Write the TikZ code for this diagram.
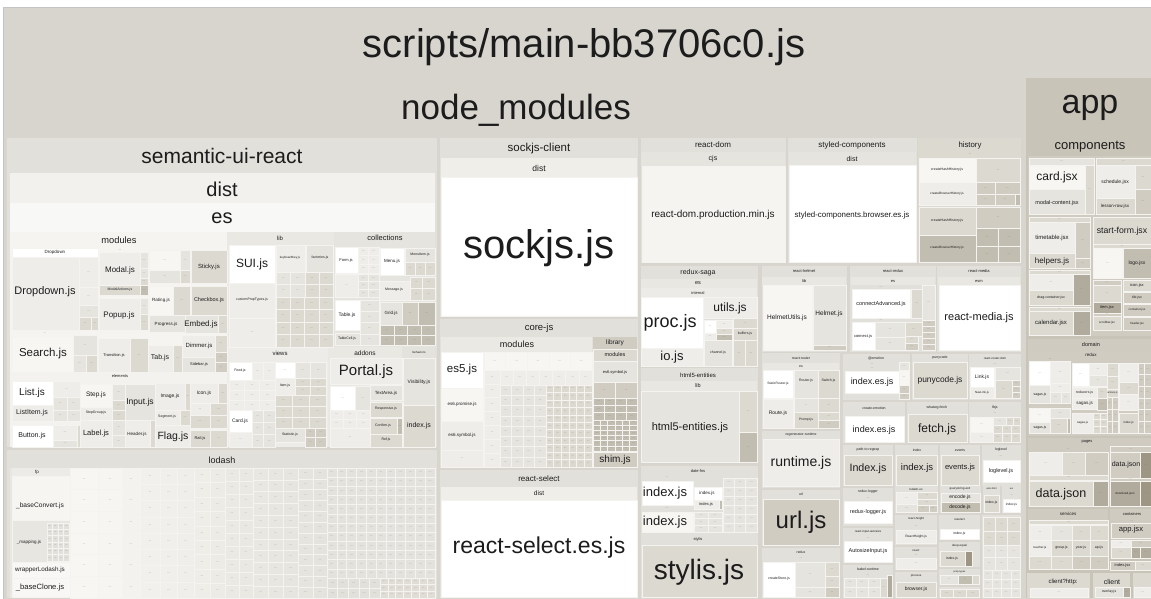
\documentclass[tikz,border=0pt]{standalone}
\usepackage{fontspec}
\setmainfont{Liberation Sans}
\definecolor{bg}{HTML}{D7D5CD}
\definecolor{frame}{HTML}{C4C4C4}
\definecolor{grp}{HTML}{E2E0DA}
\definecolor{sep}{HTML}{F4F3F0}
\definecolor{ink}{HTML}{1C1C1C}
\definecolor{dotc}{HTML}{77746A}
\definecolor{b1}{HTML}{F2F1EE}
\definecolor{b2}{HTML}{F8F8F6}
\definecolor{c0}{HTML}{F7F6F3}
\definecolor{c1}{HTML}{EFEDE9}
\definecolor{c2}{HTML}{E6E4DE}
\definecolor{c3}{HTML}{DCD9D1}
\definecolor{c4}{HTML}{D0CCC2}
\definecolor{c5}{HTML}{C2BDB1}
\definecolor{c6}{HTML}{B1AB9D}
\definecolor{c7}{HTML}{9D9684}
\definecolor{appc}{HTML}{C9C4B8}
\definecolor{compc}{HTML}{D0CBC1}
% pale tints named by their hex value
\definecolor{F5F4F1}{HTML}{F5F4F1}
\definecolor{EAE8E3}{HTML}{EAE8E3}
\definecolor{E6E4DE}{HTML}{E6E4DE}
\definecolor{F3F2EF}{HTML}{F3F2EF}
\definecolor{EEECE8}{HTML}{EEECE8}
\definecolor{E4E2DC}{HTML}{E4E2DC}
\definecolor{E9E7E2}{HTML}{E9E7E2}
\definecolor{EDEBE7}{HTML}{EDEBE7}
\definecolor{F6F5F2}{HTML}{F6F5F2}
\definecolor{E8E6E1}{HTML}{E8E6E1}
\definecolor{E2E0DA}{HTML}{E2E0DA}
\definecolor{F8F7F5}{HTML}{F8F7F5}
\definecolor{DFDDD6}{HTML}{DFDDD6}
\definecolor{EFEEE9}{HTML}{EFEEE9}
\definecolor{EBE9E4}{HTML}{EBE9E4}
\definecolor{E6E4DF}{HTML}{E6E4DF}
% filled cell with a light outline
\newcommand\Bx[5]{\filldraw[fill=#5,draw=sep,line width=0.5pt] (#1,#2) rectangle (#3,#4);}
% group background, no outline
\newcommand\Gp[5]{\fill[#5] (#1,#2) rectangle (#3,#4);}
% label: x, y, size, text
\newcommand\Lb[4]{\node[lbl,font=\fontsize{#3}{#3}\selectfont] at (#1,#2) {#4};}
% cell holding a collapsed "..." entry
\newcommand\Dt[5]{\Bx{#1}{#2}{#3}{#4}{#5}\node[dots] at ({(#1+#3)/2},{(#2+#4)/2}) {...};}
\newcommand\Dl[2]{\node[dots] at (#1,#2) {...};}
% grid of collapsed cells: x1 y1 x2 y2 columns rows colour
\newcommand\Gr[7]{%
  \pgfmathsetmacro\gw{(#3-#1)/#5}\pgfmathsetmacro\gh{(#4-#2)/#6}%
  \foreach \gi in {1,...,#5}{\foreach \gj in {1,...,#6}{%
    \pgfmathsetmacro\ga{#1+(\gi-1)*\gw}\pgfmathsetmacro\gb{#2+(\gj-1)*\gh}%
    \Dt{\ga}{\gb}{\ga+\gw}{\gb+\gh}{#7}}}}
\begin{document}
\begin{tikzpicture}[x=1pt,y=-1pt,
  lbl/.style={inner sep=0pt,text=ink},
  dots/.style={inner sep=0pt,text=dotc,font=\fontsize{3.4}{3.4}\selectfont}]
\useasboundingbox (0,0) rectangle (1151,598);
\fill[white] (0,0) rectangle (1151,598);
\filldraw[fill=bg,draw=frame,line width=0.8pt] (3.4,7.4) rectangle (1152,599);

% ---------- bundle title ----------
\Lb{584}{47}{40}{scripts/main-bb3706c0.js}
\Lb{516}{110}{35}{node\_modules}

% ---------- app ----------
\Gp{1026}{78}{1151}{598}{appc}
\Lb{1090}{108}{34}{app}

% ================= semantic-ui-react =================
\Gp{7}{138}{437}{447}{grp}
\Lb{222}{156}{21}{semantic-ui-react}
\Gp{10}{173}{435}{447}{b1}
\Lb{222}{189}{20}{dist}
\Gp{10}{203}{435}{447}{b2}
\Lb{222}{218}{20}{es}
\Gp{10}{232}{227}{372}{F5F4F1}\Lb{119}{240}{9.3}{modules}
\Gp{227}{232}{334}{347}{EAE8E3}\Lb{280}{238}{6}{lib}
\Gp{334}{232}{435}{347}{E6E4DE}\Lb{385}{238}{7.5}{collections}
\Gp{10}{372}{227}{447}{F3F2EF}\Lb{120}{376}{4}{elements}
\Gp{227}{347}{328}{447}{EEECE8}\Lb{280}{353}{6}{views}
\Gp{328}{347}{402}{447}{EAE8E3}\Lb{365}{353}{6.5}{addons}
\Gp{402}{347}{435}{447}{E4E2DC}\Lb{419}{352}{3}{behaviors}

% modules
\Bx{12}{248}{98}{257}{white}\Lb{55}{252.5}{4.5}{Dropdown}
\Bx{12}{257}{79}{330}{c1}\Lb{45}{292}{11}{Dropdown.js}
\Dt{79}{257}{98}{287}{c1}\Dt{79}{287}{98}{305}{c1}\Dt{79}{305}{98}{317}{c2}
\Dt{79}{317}{91}{330}{c3}\Dt{91}{317}{98}{330}{c3}
\Dl{120}{250}
\Bx{99}{252}{140}{285}{c1}\Lb{120}{270}{8}{Modal.js}
\Dt{140}{252}{148}{268}{c2}\Dt{140}{268}{148}{278}{c2}\Dt{140}{278}{148}{285}{c3}
\Bx{99}{285}{140}{295}{c3}\Lb{120}{290}{3.5}{ModalActions.js}
\Dt{140}{285}{148}{295}{c5}
\Bx{99}{298}{140}{330}{c1}\Lb{119}{315}{8}{Popup.js}
\Dt{140}{298}{148}{314}{c2}\Dt{140}{314}{148}{330}{c3}
\Dt{149}{250}{180}{270}{c0}\Dt{180}{250}{190}{270}{c2}
\Dt{149}{270}{180}{283}{c2}\Dt{180}{270}{190}{283}{c3}
\Bx{149}{286}{173}{315}{c0}\Lb{161}{300}{4.5}{Rating.js}
\Dt{173}{286}{190}{315}{c3}
\Bx{149}{315}{185}{332}{c2}\Lb{166}{324}{4.5}{Progress.js}
\Bx{191}{250}{227}{283}{c3}\Lb{209}{267}{6}{Sticky.js}
\Bx{191}{286}{227}{315}{c3}\Lb{209}{300}{5.5}{Checkbox.js}
\Bx{185}{315}{218}{333}{c2}\Lb{201}{324}{8}{Embed.js}
\Dt{218}{315}{227}{333}{c3}
\Dl{45}{333}
\Bx{12}{336}{73}{372}{c0}\Lb{43}{354}{11.5}{Search.js}
\Dt{73}{335}{97}{355}{c2}\Dt{73}{355}{86}{372}{c2}\Dt{86}{355}{97}{372}{c3}
\Bx{98}{338}{130}{372}{c1}\Lb{114}{355}{4}{Transition.js}
\Dt{130}{338}{148}{372}{c3}
\Bx{148}{345}{173}{372}{c1}\Lb{160}{358}{7}{Tab.js}
\Dt{173}{345}{182}{372}{c3}
\Bx{182}{335}{215}{357}{c1}\Lb{199}{346}{6}{Dimmer.js}
\Bx{182}{357}{215}{372}{c2}\Lb{199}{364}{4}{Sidebar.js}
\Dt{215}{335}{227}{352}{c3}\Dt{215}{352}{227}{362}{c4}\Dt{215}{362}{227}{372}{c4}

% elements
\Bx{12}{381}{53}{405}{white}\Lb{32}{393}{10}{List.js}
\Bx{12}{405}{53}{421}{c1}\Lb{32}{413}{7}{ListItem.js}
\Bx{12}{425}{53}{447}{white}\Lb{32}{436}{7}{Button.js}
\Dt{53}{381}{80}{397}{c1}
\Dt{53}{397}{67}{410}{c2}\Dt{67}{397}{80}{410}{c2}
\Dt{53}{410}{67}{421}{c2}\Dt{67}{410}{80}{421}{c2}
\Dt{53}{425}{77}{440}{c1}\Dt{53}{440}{77}{447}{c2}\Bx{77}{425}{80}{447}{c3}
\Bx{80}{384}{112}{407}{c0}\Lb{96}{395}{6.5}{Step.js}
\Bx{80}{407}{112}{420}{c1}\Lb{96}{413}{3.5}{StepGroup.js}
\Bx{80}{420}{112}{447}{c1}\Lb{96}{434}{7.5}{Label.js}
\Dt{112}{384}{125}{400}{c2}\Dt{112}{400}{125}{410}{c3}\Dt{112}{410}{125}{420}{c3}
\Dt{112}{420}{125}{435}{c2}\Dt{112}{435}{125}{447}{c2}
\Bx{125}{384}{155}{420}{c2}\Lb{140}{402}{8.5}{Input.js}
\Bx{125}{420}{150}{447}{c1}\Lb{137}{434}{4.5}{Header.js}
\Bx{150}{420}{155}{447}{c3}
\Bx{155}{383}{185}{410}{c1}\Lb{170}{396}{5}{Image.js}
\Dt{185}{383}{190}{410}{c3}
\Bx{155}{410}{180}{425}{c1}\Lb{167}{417}{3.5}{Segment.js}
\Dt{180}{410}{190}{425}{c3}
\Bx{155}{425}{190}{447}{c1}\Lb{173}{437}{10.5}{Flag.js}
\Bx{190}{383}{218}{403}{c1}\Lb{204}{393}{5}{Icon.js}
\Dt{218}{383}{227}{403}{c3}
\Dt{190}{403}{210}{415}{c1}\Dt{210}{403}{227}{415}{c3}
\Dt{190}{415}{210}{428}{c3}\Dt{210}{415}{227}{428}{c3}
\Bx{190}{430}{210}{447}{c3}\Lb{200}{438}{4}{Rail.js}
\Dt{210}{430}{227}{447}{c3}

% lib
\Bx{229}{245}{275}{283}{white}\Lb{252}{264}{12}{SUI.js}
\Bx{229}{283}{275}{318}{c1}\Lb{252}{300}{3.5}{customPropTypes.js}
\Dt{229}{318}{275}{347}{c1}
\Bx{276}{245}{305}{272}{c1}\Lb{290}{258}{3}{keyboardKey.js}
\Bx{306}{245}{333}{272}{c2}\Lb{320}{258}{3.5}{factories.js}
\Gr{276}{272}{305}{297}{2}{2}{c2}
\Gr{305}{272}{333}{297}{2}{2}{c3}
\Gr{276}{297}{333}{347}{4}{4}{c3}

% collections
\Bx{335}{247}{358}{273}{white}\Lb{346}{260}{4}{Form.js}
\Gr{358}{247}{379}{273}{2}{3}{c1}
\Bx{380}{248}{404}{275}{white}\Lb{392}{261}{4.5}{Menu.js}
\Bx{405}{248}{435}{262}{c2}\Lb{420}{255}{3.5}{MenuItem.js}
\Gr{405}{262}{435}{275}{3}{1}{c3}
\Dt{335}{274}{358}{297}{c1}
\Gr{358}{274}{379}{297}{2}{3}{c2}
\Bx{379}{281}{410}{300}{c1}\Lb{394}{290}{3.5}{Message.js}
\Gr{410}{277}{435}{300}{2}{2}{c3}
\Bx{335}{300}{360}{330}{white}\Lb{347}{315}{5}{Table.js}
\Gr{360}{300}{379}{345}{1}{4}{c2}
\Bx{380}{302}{402}{325}{c2}\Lb{391}{313}{4.5}{Grid.js}
\Dt{402}{302}{418}{325}{c4}\Dt{418}{302}{435}{325}{c5}
\Bx{335}{333}{360}{345}{c2}\Lb{347}{339}{3.5}{TableCell.js}
\Gr{380}{325}{435}{345}{4}{2}{c5}

% views
\Bx{229}{362}{252}{380}{white}\Lb{240}{371}{3.5}{Feed.js}
\Gr{252}{362}{275}{380}{2}{1}{c1}
\Gr{229}{380}{275}{410}{3}{3}{c1}
\Dt{275}{362}{295}{378}{white}
\Gr{295}{362}{326}{378}{2}{1}{c2}
\Bx{275}{378}{295}{395}{c1}\Lb{285}{386}{3.5}{Item.js}
\Gr{295}{378}{326}{395}{2}{2}{c3}
\Gr{275}{395}{326}{428}{3}{3}{c3}
\Bx{229}{410}{252}{432}{white}\Lb{240}{421}{5}{Card.js}
\Gr{252}{410}{275}{447}{2}{3}{c2}
\Dt{229}{432}{252}{447}{c1}
\Bx{275}{428}{305}{442}{c2}\Lb{290}{435}{3.5}{Statistic.js}
\Gr{305}{428}{326}{447}{2}{2}{c4}

% addons
\Bx{330}{358}{402}{384}{c1}\Lb{366}{372}{15}{Portal.js}
\Dt{330}{386}{355}{410}{white}
\Dt{355}{386}{370}{410}{c2}
\Bx{370}{385}{402}{400}{c2}\Lb{386}{393}{4.5}{TextArea.js}
\Bx{370}{402}{402}{417}{c3}\Lb{386}{409}{3.5}{Responsive.js}
\Gr{330}{410}{370}{428}{3}{2}{c1}
\Dt{330}{428}{370}{447}{c1}
\Bx{370}{418}{397}{434}{c3}\Lb{383}{426}{3.5}{Confirm.js}
\Dt{397}{418}{402}{434}{c5}
\Bx{370}{434}{402}{447}{c3}\Lb{386}{440}{3.5}{Ref.js}

% behaviors
\Bx{403}{358}{435}{405}{c2}\Lb{419}{382}{5}{Visibility.js}
\Bx{403}{405}{435}{447}{c3}\Lb{419}{426}{7}{index.js}

% ================= lodash =================
\Gp{7}{450}{437}{598}{grp}
\Lb{222}{460}{9}{lodash}
\Gp{10}{468}{435}{598}{E9E7E2}
\Gp{12}{468}{70}{562}{EDEBE7}
\Lb{37}{472}{4.5}{fp}
\Bx{12}{476}{70}{520}{F6F5F2}\Lb{40}{506}{6.6}{\_baseConvert.js}
\Bx{12}{520}{70}{562}{E8E6E1}\Lb{29}{542}{4.5}{\_mapping.js}
\Gr{47}{523}{69}{561}{4}{6}{E2E0DA}
\Bx{12}{562}{70}{578}{F8F7F5}\Lb{40}{570}{6.3}{wrapperLodash.js}
\Bx{12}{578}{70}{597}{F8F7F5}\Lb{40}{588}{7.6}{\_baseClone.js}
\foreach \xa/\xb/\nr/\cc in {70/98/6/F7F6F3,98/122/6/F6F5F2,122/140/6/F3F2EF,
  140/160/8/F1F0EC,160/177/8/F0EFEB,177/194/8/EFEEEA,194/210/9/EEEDE8,
  210/225/9/EDEBE6,225/239/10/EBE9E4,239/253/10/EAE8E3,253/268/11/E9E7E2,
  268/283/11/E8E6E1,283/298/11/E7E5E0,298/313/12/E6E4DF,313/327/12/E5E3DE}{
  \definecolor{lc}{HTML}{\cc}\Gr{\xa}{468}{\xb}{598}{1}{\nr}{lc}}
\Gr{327}{468}{435}{578}{11}{12}{E4E2DC}
\Gr{327}{578}{380}{598}{5}{2}{E2E0DA}
\Gr{380}{578}{435}{598}{7}{3}{DFDDD6}

% ================= sockjs-client =================
\Gp{440}{138}{638}{317}{grp}
\Lb{539}{149}{11.5}{sockjs-client}
\Gp{441}{158}{637}{177}{EFEEE9}\Lb{539}{168}{8.5}{dist}
\Bx{441}{177}{637}{316}{white}\Lb{539}{248}{40}{sockjs.js}

% ================= core-js =================
\Gp{440}{319}{638}{468}{grp}
\Lb{539}{328}{9.5}{core-js}
\Gp{441}{337}{592}{468}{EBE9E4}\Lb{517}{344}{9}{modules}
\Bx{441}{352}{483}{388}{white}\Lb{462}{370}{11.5}{es5.js}
\Bx{441}{388}{483}{421}{c0}\Lb{462}{404}{4.5}{es6.promise.js}
\Bx{441}{421}{483}{450}{c1}\Lb{462}{435}{4.5}{es6.symbol.js}
\Dt{441}{450}{483}{467}{c1}
\Gr{484}{352}{592}{370}{5}{1}{c0}
\Gr{484}{370}{500}{467}{1}{7}{c1}
\Gr{500}{370}{592}{385}{7}{1}{c1}
\Gr{500}{385}{546}{467}{4}{8}{c2}
\Gr{546}{385}{592}{467}{6}{11}{c3}
\Gp{593}{337}{637}{468}{c4}\Lb{615}{343}{6.5}{library}
\Bx{593}{349}{637}{361}{c3}\Lb{615}{355}{5.5}{modules}
\Bx{593}{361}{637}{382}{c2}\Lb{615}{372}{4}{es6.symbol.js}
\Gr{593}{382}{637}{398}{2}{1}{c4}
\Gr{593}{398}{637}{420}{4}{3}{c5}
\Gr{593}{420}{637}{451}{6}{6}{c5}
\Bx{593}{452}{637}{467}{c4}\Lb{615}{460}{10}{shim.js}

% ================= react-select =================
\Gp{440}{470}{638}{598}{grp}
\Lb{539}{479}{8}{react-select}
\Gp{441}{487}{637}{500}{EFEEE9}\Lb{539}{493}{6.5}{dist}
\Bx{441}{500}{637}{597}{white}\Lb{539}{548}{23}{react-select.es.js}

% ================= react-dom / styled-components / history =================
\Gp{641}{138}{786}{263}{grp}
\Lb{713}{145}{8}{react-dom}
\Gp{641}{152}{785}{166}{E6E4DF}\Lb{713}{159}{7}{cjs}
\Bx{642}{166}{785}{262}{F5F4F1}\Lb{713}{215}{10}{react-dom.production.min.js}

\Gp{788}{138}{917}{263}{grp}
\Lb{852}{145}{8}{styled-components}
\Gp{789}{152}{916}{165}{E6E4DF}\Lb{852}{159}{7}{dist}
\Bx{789}{165}{916}{262}{white}\Lb{852}{215}{7.9}{styled-components.browser.es.js}

\Gp{918}{138}{1021}{263}{c3}
\Lb{970}{145}{7.8}{history}
\Dl{970}{154}
\Bx{919}{158}{976}{182}{c0}\Lb{947}{170}{3.5}{createHashHistory.js}
\Bx{919}{182}{976}{205}{c1}\Lb{947}{194}{3.2}{createBrowserHistory.js}
\Dt{976}{158}{1020}{182}{c3}
\Dt{976}{182}{995}{194}{c4}\Dt{995}{182}{1020}{194}{c4}
\Dt{976}{194}{995}{205}{c4}\Dt{995}{194}{1015}{205}{c4}\Bx{1015}{194}{1020}{205}{c5}
\Bx{919}{207}{976}{235}{c3}\Lb{947}{221}{3.5}{createHashHistory.js}
\Bx{919}{235}{976}{262}{c5}\Lb{947}{248}{3.2}{createBrowserHistory.js}
\Dt{976}{207}{1020}{228}{c4}
\Dt{976}{228}{998}{246}{c5}\Dt{998}{228}{1020}{246}{c5}
\Dt{976}{246}{998}{262}{c5}\Dt{998}{246}{1020}{262}{c5}

% ================= redux-saga =================
\Gp{641}{266}{758}{366}{grp}
\Lb{698}{273}{7}{redux-saga}
\Gp{641}{279}{757}{288}{E9E7E2}\Lb{698}{283}{5.5}{es}
\Gp{641}{288}{757}{297}{EDEBE7}\Lb{698}{293}{4}{internal}
\Bx{641}{297}{703}{348}{white}\Lb{670}{323}{18}{proc.js}
\Bx{703}{297}{757}{318}{c1}\Lb{730}{308}{12}{utils.js}
\Dt{704}{320}{716}{333}{white}\Dt{716}{320}{732}{328}{c1}\Dt{716}{328}{732}{334}{c3}
\Dt{704}{333}{716}{340}{c1}\Dt{716}{334}{732}{340}{c5}
\Dt{733}{318}{757}{328}{c3}
\Bx{733}{328}{757}{340}{c3}\Lb{745}{334}{3.5}{buffers.js}
\Bx{641}{348}{703}{366}{c1}\Lb{672}{357}{13}{io.js}
\Bx{704}{340}{732}{366}{c2}\Lb{718}{353}{3.5}{channel.js}
\Dt{733}{340}{745}{366}{c3}\Dt{745}{340}{757}{366}{c3}

% ================= html5-entities =================
\Gp{641}{368}{758}{462}{grp}
\Lb{698}{375}{6}{html5-entities}
\Gp{641}{381}{757}{391}{E9E7E2}\Lb{698}{386}{5.5}{lib}
\Bx{641}{391}{739}{462}{c2}\Lb{690}{428}{11}{html5-entities.js}
\Dt{739}{391}{757}{432}{c3}\Dt{739}{432}{757}{462}{c5}

% ================= date-fns =================
\Gp{641}{466}{758}{534}{grp}
\Lb{698}{471}{4}{date-fns}
\Dl{667}{477}
\Bx{642}{481}{693}{505}{white}\Lb{665}{493}{13}{index.js}
\Dl{667}{508}
\Bx{642}{512}{693}{532}{c0}\Lb{665}{522}{13}{index.js}
\Bx{694}{487}{722}{500}{white}\Lb{707}{493}{4.5}{index.js}
\Bx{694}{500}{719}{509}{c1}\Lb{706}{504.5}{4}{index.js}\Bx{719}{500}{722}{509}{c5}
\Gr{723}{478}{757}{532}{3}{6}{c2}
\Gr{694}{512}{722}{532}{2}{3}{c2}

% ================= stylis =================
\Gp{641}{534}{758}{598}{grp}
\Lb{698}{539}{4}{stylis}
\Bx{642}{545}{757}{597}{c3}\Lb{699}{572}{28}{stylis.js}

% ================= react-helmet / react-redux / react-media =================
\Gp{762}{266}{847}{352}{grp}
\Lb{804}{271}{4}{react-helmet}
\Gp{762}{277}{846}{285}{E9E7E2}\Lb{804}{281}{4}{lib}
\Bx{763}{285}{812}{350}{c0}\Lb{787}{318}{6.5}{HelmetUtils.js}
\Bx{813}{285}{846}{345}{c2}\Lb{829}{314}{6.5}{Helmet.js}
\Dt{813}{345}{846}{350}{c4}

\Gp{850}{266}{936}{352}{grp}
\Lb{893}{271}{4}{react-redux}
\Gp{851}{277}{935}{285}{E9E7E2}\Lb{893}{281}{4}{es}
\Dl{881}{287}
\Bx{852}{289}{910}{318}{white}\Lb{881}{304}{5.5}{connectAdvanced.js}
\Dt{911}{289}{922}{318}{c3}\Dt{922}{285}{935}{320}{c2}
\Dl{881}{320}
\Bx{852}{322}{875}{350}{white}\Lb{863}{336}{4}{connect.js}
\Dt{875}{322}{905}{337}{c2}\Dt{875}{337}{905}{350}{c2}
\Dt{905}{322}{922}{336}{c3}\Dt{905}{336}{918}{343}{c3}\Dt{905}{343}{918}{350}{c4}
\Gr{922}{320}{935}{350}{1}{5}{c4}

\Gp{937}{266}{1021}{352}{grp}
\Lb{979}{271}{4}{react-media}
\Gp{938}{277}{1020}{285}{E9E7E2}\Lb{979}{281}{4}{esm}
\Bx{939}{285}{1020}{350}{white}\Lb{979}{318}{11}{react-media.js}

% ================= react-router =================
\Gp{762}{353}{840}{429}{grp}
\Lb{801}{358}{3.5}{react-router}
\Gp{763}{363}{839}{370}{E9E7E2}\Lb{801}{366.5}{3.5}{es}
\Bx{763}{370}{793}{398}{white}\Lb{778}{384}{3.3}{StaticRouter.js}
\Bx{794}{370}{818}{398}{c2}\Lb{806}{381}{3.5}{Router.js}
\Bx{818}{370}{839}{398}{c3}\Lb{828.5}{381}{3.5}{Switch.js}
\Bx{763}{399}{793}{428}{c1}\Lb{778}{413}{5}{Route.js}
\Dt{794}{398}{818}{412}{c2}\Dt{818}{398}{839}{412}{c3}
\Bx{794}{412}{818}{428}{c3}\Lb{806}{420}{3.3}{Prompt.js}
\Dt{818}{412}{839}{420}{c3}\Dt{818}{420}{839}{428}{c4}

% ================= regenerator-runtime / url / redux =================
\Gp{762}{431}{840}{488}{grp}
\Lb{801}{435}{3.5}{regenerator-runtime}
\Bx{763}{439}{839}{486}{c1}\Lb{801}{463}{14}{runtime.js}
\Gp{762}{490}{840}{546}{grp}
\Lb{801}{494}{3.5}{url}
\Bx{763}{499}{839}{545}{c4}\Lb{801}{522}{24}{url.js}
\Gp{762}{548}{840}{598}{grp}
\Lb{801}{552}{3.5}{redux}
\Dl{801}{558}
\Bx{763}{562}{795}{597}{white}\Lb{779}{579}{3.5}{createStore.js}
\Dt{795}{562}{825}{587}{c2}\Dt{795}{587}{825}{597}{c2}
\Dt{825}{562}{839}{576}{c3}\Dt{825}{576}{839}{587}{c3}\Dt{825}{587}{839}{597}{c4}

% ================= @emotion / punycode / react-router-dom =================
\Gp{843}{354}{910}{400}{grp}
\Lb{876}{358}{3.5}{@emotion}
\Dl{872}{364}\Dl{872}{368}
\Bx{845}{371}{899}{393}{white}\Lb{872}{382}{9}{index.es.js}
\Dt{899}{362}{909}{370}{c2}\Dt{899}{370}{909}{385}{c0}\Dt{899}{385}{909}{393}{c4}\Dt{899}{393}{909}{399}{c4}
\Gp{912}{354}{968}{400}{grp}
\Lb{940}{358}{3.5}{punycode}
\Bx{913}{362}{967}{398}{c3}\Lb{940}{380}{8.4}{punycode.js}
\Gp{969}{354}{1021}{400}{grp}
\Lb{995}{358}{3}{react-router-dom}
\Dl{995}{364}
\Bx{970}{367}{994}{387}{white}\Lb{982}{377}{5}{Link.js}
\Bx{970}{387}{994}{398}{c1}\Lb{982}{392.5}{3}{NavLink.js}
\Dt{995}{367}{1020}{380}{c2}\Dt{995}{380}{1012}{398}{c3}
\Dt{1012}{380}{1020}{386}{c4}\Dt{1012}{386}{1020}{392}{c4}\Dt{1012}{392}{1020}{398}{c4}

% ================= create-emotion / whatwg-fetch / fbjs =================
\Gp{843}{402}{905}{443}{grp}
\Lb{874}{408}{3.5}{create-emotion}
\Bx{845}{416}{904}{442}{white}\Lb{874}{430}{9}{index.es.js}
\Gp{907}{402}{968}{443}{grp}
\Lb{937}{408}{3.5}{whatwg-fetch}
\Bx{908}{414}{967}{442}{c3}\Lb{937}{429}{12}{fetch.js}
\Gp{969}{402}{1021}{443}{grp}
\Lb{995}{408}{3.5}{fbjs}
\Dl{995}{413}
\Dt{970}{417}{993}{432}{c0}\Dt{970}{432}{993}{442}{c1}
\Dt{993}{417}{1006}{425}{c2}\Dt{1006}{417}{1013}{425}{c3}\Dt{1013}{417}{1020}{425}{c3}
\Gr{993}{425}{1020}{442}{3}{2}{c3}

% ================= path-to-regexp / index / events / loglevel =================
\Gp{843}{445}{893}{486}{grp}
\Lb{868}{450}{3.5}{path-to-regexp}
\Bx{844}{455}{892}{485}{c3}\Lb{868}{469}{10.7}{Index.js}
\Gp{895}{445}{938}{486}{grp}
\Lb{917}{450}{3.5}{index}
\Bx{896}{455}{937}{485}{c3}\Lb{917}{468}{9.5}{index.js}
\Gp{940}{445}{980}{486}{grp}
\Lb{960}{450}{3.5}{events}
\Bx{941}{455}{979}{485}{c3}\Lb{960}{468}{7.6}{events.js}
\Gp{982}{445}{1021}{486}{grp}
\Lb{1001}{450}{3.5}{loglevel}
\Dl{1001}{456}
\Bx{983}{460}{1020}{482}{white}\Lb{1001}{471}{5.5}{loglevel.js}

% ================= redux-logger / react-input-autosize / babel-runtime =================
\Gp{843}{488}{893}{526}{grp}
\Lb{868}{492}{3.5}{redux-logger}
\Dl{868}{498}
\Bx{844}{501}{892}{523}{white}\Lb{868}{512}{5.5}{redux-logger.js}
\Gp{843}{528}{893}{563}{grp}
\Lb{868}{532}{3}{react-input-autosize}
\Dl{868}{538}
\Bx{844}{541}{892}{562}{white}\Lb{868}{551}{5.5}{AutosizeInput.js}
\Gp{843}{565}{893}{598}{grp}
\Lb{868}{569}{3.5}{babel-runtime}
\Dl{868}{575}
\Gr{844}{578}{880}{597}{3}{2}{c2}
\Dt{880}{578}{887}{597}{c3}\Bx{887}{575}{892}{597}{c6}

% ================= small packages, lower right =================
\Gp{895}{486}{938}{513}{grp}
\Lb{916}{489}{3}{lodash-es}
\Dt{896}{492}{917}{504}{c1}\Dt{917}{492}{937}{499}{c3}\Dt{917}{499}{937}{505}{c3}
\Dt{896}{504}{917}{512}{c2}\Dt{917}{505}{929}{512}{c4}\Dt{929}{505}{937}{512}{c4}
\Gp{940}{486}{981}{513}{grp}
\Lb{960}{489}{3}{querystring-es3}
\Bx{941}{493}{980}{502}{c2}\Lb{960}{497.5}{5}{encode.js}
\Bx{941}{502}{980}{512}{c5}\Lb{960}{507}{5}{decode.js}
\Gp{983}{486}{1000}{513}{grp}
\Lb{991.5}{489}{2.5}{ansi-html}
\Bx{984}{495}{999}{512}{c3}\Lb{991.5}{503}{3.5}{index.js}
\Gp{1002}{486}{1021}{513}{grp}
\Lb{1011.5}{489}{2.5}{ws}
\Dl{1011.5}{495}
\Bx{1003}{499}{1020}{512}{white}\Lb{1011.5}{505}{3.3}{index.js}
\Gp{895}{515}{937}{545}{grp}
\Lb{916}{519}{3}{react-height}
\Dl{916}{526}
\Bx{896}{530}{936}{543}{c1}\Lb{916}{536.5}{3.3}{ReactHeight.js}
\Gp{939}{515}{980}{540}{grp}
\Lb{959.5}{519}{3}{reselect}
\Bx{940}{529}{979}{539}{white}\Lb{959.5}{534}{3.5}{index.js}
\Gp{895}{547}{937}{570}{grp}
\Lb{916}{551}{3}{react}
\Dl{916}{555}
\Dt{896}{558}{936}{569}{c1}
\Gp{939}{542}{980}{567}{grp}
\Lb{959.5}{546}{3}{deep-equal}
\Bx{940}{551}{965}{566}{c3}\Lb{952}{558.5}{3.5}{index.js}
\Bx{965}{551}{972}{566}{c7}
\Gp{895}{572}{937}{598}{grp}
\Lb{916}{576}{3}{process}
\Bx{896}{582}{936}{597}{c3}\Lb{916}{589.5}{5}{browser.js}
\Gp{939}{569}{980}{585}{grp}
\Lb{959.5}{572}{2.5}{prop-types}
\Dt{940}{575}{958}{584}{c2}\Dt{958}{575}{972}{584}{c5}\Bx{972}{575}{979}{584}{c3}
\Gp{939}{587}{980}{598}{grp}
\Gr{940}{589}{979}{597}{3}{1}{c3}
\Gp{982}{515}{1021}{598}{grp}
\Gr{983}{517}{1020}{545}{3}{2}{c3}
\Gr{983}{545}{1020}{570}{3}{2}{c2}
\Gr{983}{570}{1020}{597}{4}{3}{c2}

% ================= app / components =================
\Lb{1090}{147}{13}{components}
\Gp{1028}{156}{1151}{336}{compc}
\Dt{1029}{158}{1094}{165}{c2}
\Bx{1029}{165}{1085}{189}{c0}\Lb{1057}{177}{12}{card.jsx}
\Bx{1029}{189}{1085}{214}{c2}\Lb{1057}{203}{5.5}{modal-content.jsx}
\Dt{1085}{165}{1094}{214}{c3}
\Dt{1096}{158}{1151}{165}{c3}
\Bx{1096}{165}{1135}{198}{c1}\Lb{1115}{182}{5}{schedule.jsx}
\Dt{1135}{165}{1151}{189}{c3}
\Bx{1096}{198}{1135}{214}{c3}\Lb{1115}{206}{4.5}{lesson-row.jsx}
\Dt{1135}{189}{1151}{214}{c4}
\Dt{1029}{217}{1090}{222}{c3}
\Bx{1029}{222}{1075}{253}{c1}\Lb{1052}{238}{6}{timetable.jsx}
\Dt{1075}{222}{1090}{258}{c4}
\Bx{1029}{253}{1075}{268}{c3}\Lb{1052}{261}{8}{helpers.js}
\Dt{1075}{258}{1090}{268}{c4}
\Bx{1093}{217}{1151}{244}{c3}\Lb{1122}{231}{8.7}{start-form.jsx}
\Dt{1093}{244}{1151}{248}{c3}
\Dt{1093}{248}{1122}{278}{c0}
\Bx{1123}{248}{1151}{278}{c5}\Lb{1137}{263}{5}{logo.jsx}
\Dt{1029}{270}{1090}{274}{c3}
\Dt{1029}{274}{1073}{290}{c1}
\Dt{1073}{274}{1090}{305}{c6}
\Bx{1029}{290}{1073}{305}{c3}\Lb{1051}{297.5}{3.5}{drag-container.jsx}
\Dt{1029}{307}{1090}{311}{c3}
\Bx{1029}{311}{1073}{335}{c3}\Lb{1051}{323}{6}{calendar.jsx}
\Dt{1073}{311}{1090}{335}{c6}
\Dt{1093}{280}{1121}{285}{c4}
\Dt{1093}{285}{1121}{302}{c3}
\Bx{1093}{302}{1121}{313}{c6}\Lb{1107}{307.5}{4}{item.jsx}
\Dt{1093}{313}{1121}{316}{c4}
\Bx{1093}{316}{1121}{330}{c3}\Lb{1107}{323}{3}{scrollbar.jsx}
\Bx{1123}{280}{1151}{291}{c3}\Lb{1137}{285.5}{4}{icon.jsx}
\Bx{1123}{292}{1151}{303}{c4}\Lb{1137}{297.5}{3.5}{tile.jsx}
\Bx{1123}{304}{1151}{316}{c4}\Lb{1137}{310}{3}{container.jsx}
\Bx{1123}{317}{1151}{330}{c4}\Lb{1137}{323.5}{3}{header.jsx}

% domain
\Gp{1028}{339}{1151}{436}{compc}
\Lb{1091}{345}{5.5}{domain}
\Gp{1029}{351}{1151}{435}{c4}
\Lb{1091}{355}{4.5}{redux}
\Dl{1050}{359}
\Dt{1029}{361}{1050}{385}{white}
\Dt{1050}{361}{1070}{383}{c1}
\Bx{1029}{385}{1050}{403}{c2}\Lb{1040}{395}{3.5}{sagas.js}
\Dt{1050}{383}{1070}{392}{c1}\Dt{1050}{392}{1061}{403}{c2}\Dt{1061}{392}{1070}{403}{c2}
\Dt{1029}{408}{1050}{422}{c0}
\Bx{1029}{422}{1050}{433}{c2}\Lb{1040}{427.5}{3.5}{sagas.js}
\Dt{1050}{408}{1070}{418}{c2}\Dt{1050}{418}{1067}{433}{c3}\Bx{1067}{418}{1070}{433}{c5}
\Dt{1072}{363}{1089}{386}{white}
\Dt{1089}{363}{1107}{375}{c1}\Dt{1089}{375}{1107}{386}{c2}
\Bx{1072}{387}{1097}{398}{c1}\Lb{1084.5}{392.5}{3.5}{reducers.js}
\Bx{1072}{398}{1097}{409}{c1}\Lb{1084.5}{403.5}{4.5}{sagas.js}
\Dt{1097}{387}{1107}{398}{c3}\Dt{1097}{398}{1107}{410}{c5}
\Bx{1072}{413}{1093}{433}{c1}\Lb{1082.5}{423}{3}{sagas.js}
\Gr{1093}{413}{1107}{433}{2}{3}{c3}
\Dt{1107}{363}{1118}{376}{c3}\Dt{1107}{376}{1118}{389}{c3}
\Bx{1107}{389}{1118}{397}{c3}\Lb{1112.5}{393}{2.5}{actions.js}
\Gr{1107}{397}{1118}{433}{2}{3}{c4}
\Dt{1119}{363}{1138}{382}{c1}\Dt{1119}{382}{1138}{394}{c3}
\Dt{1119}{394}{1138}{410}{c1}
\Bx{1119}{413}{1138}{433}{c3}\Lb{1128.5}{423}{3}{index.js}
\Gr{1138}{363}{1151}{433}{2}{6}{c4}

% pages
\Gp{1028}{438}{1151}{507}{compc}
\Lb{1087}{442}{4}{pages}
\Dl{1068}{449}
\Dt{1029}{452}{1062}{475}{c1}\Dt{1062}{452}{1085}{475}{c3}\Dt{1085}{452}{1108}{475}{c4}
\Dt{1029}{475}{1108}{480}{c3}
\Bx{1029}{481}{1093}{506}{c3}\Lb{1061}{494}{12.5}{data.json}
\Dt{1093}{481}{1108}{506}{c6}
\Dt{1110}{446}{1151}{452}{c4}
\Bx{1110}{452}{1140}{478}{c4}\Lb{1126}{465}{7}{data.json}
\Dt{1140}{452}{1151}{478}{c7}
\Dt{1110}{478}{1151}{481}{c4}
\Bx{1110}{481}{1140}{506}{c6}\Lb{1125}{494}{3}{download.json}
\Dt{1140}{481}{1151}{506}{c7}

% services / containers
\Gp{1028}{509}{1108}{570}{compc}
\Lb{1068}{514}{4.5}{services}
\Dt{1029}{520}{1108}{524}{c3}
\Dt{1029}{525}{1051}{540}{c1}\Dt{1051}{525}{1072}{540}{c2}\Dt{1072}{525}{1090}{540}{c3}\Dt{1090}{525}{1108}{540}{c3}
\Bx{1029}{540}{1051}{556}{c1}\Lb{1040}{548}{3}{teacher.js}
\Bx{1051}{540}{1072}{556}{c3}\Lb{1061.5}{548}{3.5}{group.js}
\Bx{1072}{540}{1090}{556}{c3}\Lb{1081}{548}{3.5}{year.js}
\Bx{1090}{540}{1108}{556}{c3}\Lb{1099}{548}{3.5}{api.js}
\Dt{1029}{556}{1051}{569}{c3}\Dt{1051}{556}{1072}{569}{c3}\Dt{1072}{556}{1090}{569}{c4}\Dt{1090}{556}{1108}{569}{c4}
\Gp{1110}{509}{1151}{559}{compc}
\Lb{1132}{514}{4}{containers}
\Dl{1132}{521}
\Bx{1111}{523}{1151}{538}{c4}\Lb{1131}{530}{7.6}{app.jsx}
\Dt{1111}{540}{1131}{547}{c1}\Dt{1131}{540}{1151}{547}{c4}
\Dt{1111}{547}{1131}{558}{c3}\Dt{1131}{547}{1140}{558}{c6}\Dt{1140}{547}{1151}{558}{c6}
\Bx{1110}{561}{1135}{570}{c4}\Lb{1122.5}{565.5}{4}{index.jsx}
\Dt{1135}{561}{1151}{570}{c3}

% bottom row of app
\Gp{1027}{573}{1090}{598}{c3}
\Lb{1063}{582}{6}{client?http:}
\Dt{1030}{588}{1088}{597}{c1}
\Gp{1093}{573}{1130}{598}{c3}
\Lb{1112}{582}{7}{client}
\Bx{1095}{587}{1123}{597}{c2}\Lb{1109}{592}{3.5}{overlay.js}
\Dt{1123}{587}{1130}{597}{c6}
\Gp{1133}{573}{1151}{598}{c3}
\Dt{1134}{587}{1151}{597}{c1}
\end{tikzpicture}
\end{document}
